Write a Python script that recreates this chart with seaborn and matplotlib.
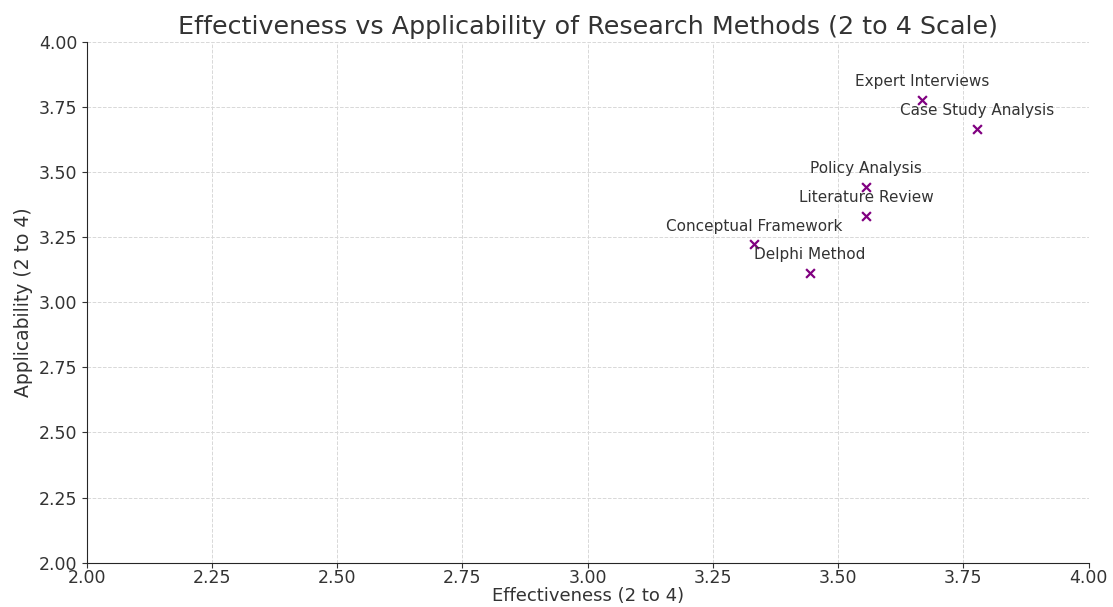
import pandas as pd
import matplotlib.pyplot as plt
import seaborn as sns

# Data
methods = ["Expert Interviews", "Case Study Analysis", "Policy Analysis",
           "Literature Review", "Conceptual Framework", "Delphi Method"]
effectiveness = [3.667, 3.778, 3.556, 3.556, 3.333, 3.444]
applicability = [3.778, 3.667, 3.444, 3.333, 3.222, 3.111]

df = pd.DataFrame({"Method": methods, "Effectiveness": effectiveness,
                   "Applicability": applicability})

sns.set_style("ticks")
plt.rcParams["font.family"] = ["DejaVu Sans"]
plt.rcParams["text.color"] = "#333333"
plt.rcParams["axes.labelcolor"] = "#333333"
plt.rcParams["xtick.color"] = "#333333"
plt.rcParams["ytick.color"] = "#333333"

fig = plt.figure(figsize=(11.13, 6.07), dpi=100)
ax = fig.add_axes([0.078, 0.073, 0.9, 0.858])

sns.scatterplot(data=df, x="Effectiveness", y="Applicability", marker="x",
                color="purple", s=40, linewidth=1.6, ax=ax)

# label each point just above its marker
for _, row in df.iterrows():
    ax.annotate(row["Method"], (row["Effectiveness"], row["Applicability"]),
                xytext=(0, 10), textcoords="offset points", ha="center",
                fontsize=11, color="#333333")

ax.set_xlim(2, 4)
ax.set_ylim(2, 4)
ax.set_xticks([2.0, 2.25, 2.5, 2.75, 3.0, 3.25, 3.5, 3.75, 4.0])
ax.set_yticks([2.0, 2.25, 2.5, 2.75, 3.0, 3.25, 3.5, 3.75, 4.0])
ax.tick_params(labelsize=12.5)
ax.tick_params(axis="x", pad=1)
ax.grid(True, linestyle="--", color="#d8d8d8", linewidth=0.7)
for side in ["top", "right"]:
    ax.spines[side].set_visible(False)
ax.set_title("Effectiveness vs Applicability of Research Methods (2 to 4 Scale)",
             fontsize=18.3, color="#333333")
ax.set_xlabel("Effectiveness (2 to 4)", fontsize=13, labelpad=0)
ax.set_ylabel("Applicability (2 to 4)", fontsize=13.5)

plt.savefig("out.png", dpi=100)
